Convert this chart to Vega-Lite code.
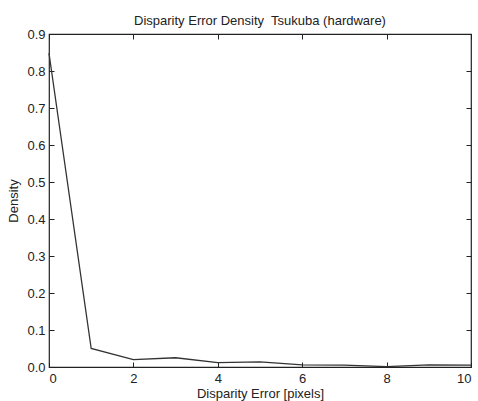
{
  "$schema": "https://vega.github.io/schema/vega-lite/v6.json",
  "width": 422,
  "height": 333,
  "autosize": {"type": "none"},
  "padding": {"left": 49, "top": 34, "right": 7, "bottom": 34},
  "background": "white",
  "title": {"text": "Disparity Error Density\u00a0 Tsukuba (hardware)", "font": "Liberation Sans", "fontSize": 13, "fontWeight": "normal", "color": "#222", "offset": 0},
  "config": {
    "view": {"stroke": "#222", "strokeWidth": 1.2},
    "axis": {"domain": false, "grid": false, "tickColor": "#222", "tickSize": -5, "labelPadding": 9, "labelFont": "Liberation Sans", "labelFontSize": 13, "labelColor": "#222", "titleFont": "Liberation Sans", "titleFontSize": 13, "titleFontWeight": "normal", "titleColor": "#222"}
  },
  "data": {"values": [
    {"x": 0, "y": 0.848},
    {"x": 1, "y": 0.05},
    {"x": 2, "y": 0.02},
    {"x": 3, "y": 0.025},
    {"x": 4, "y": 0.012},
    {"x": 5, "y": 0.014},
    {"x": 6, "y": 0.006},
    {"x": 7, "y": 0.005},
    {"x": 8, "y": 0.001},
    {"x": 9, "y": 0.006},
    {"x": 10, "y": 0.005}
  ]},
  "layer": [
    {
      "mark": {"type": "line", "color": "#333", "strokeWidth": 1.3},
      "encoding": {
        "x": {"field": "x", "type": "quantitative", "scale": {"domain": [0, 10], "nice": false}, "axis": {"orient": "bottom", "values": [0, 2, 4, 6, 8, 10], "title": "Disparity Error [pixels]", "labelPadding": 10, "titlePadding": 2}},
        "y": {"field": "y", "type": "quantitative", "scale": {"domain": [0, 0.9], "nice": false}, "axis": {"orient": "left", "values": [0, 0.1, 0.2, 0.3, 0.4, 0.5, 0.6, 0.7, 0.8, 0.9], "title": "Density", "titlePadding": 6}}
      }
    },
    {
      "mark": {"type": "line", "opacity": 0},
      "encoding": {
        "x": {"field": "x", "type": "quantitative", "axis": {"orient": "top", "values": [0, 2, 4, 6, 8, 10], "labels": false, "title": null}},
        "y": {"field": "y", "type": "quantitative", "axis": {"orient": "right", "values": [0, 0.1, 0.2, 0.3, 0.4, 0.5, 0.6, 0.7, 0.8, 0.9], "labels": false, "title": null}}
      }
    }
  ]
}
